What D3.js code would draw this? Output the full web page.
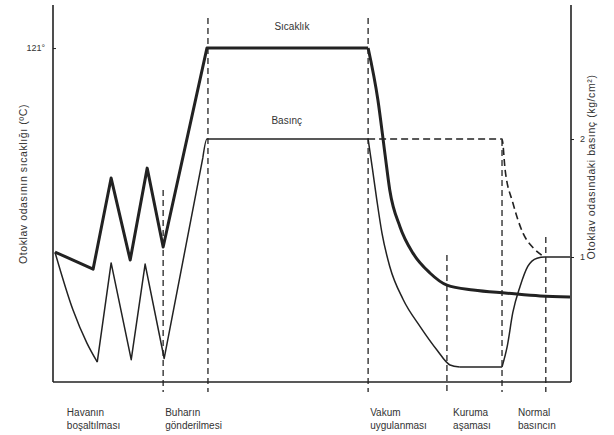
<!DOCTYPE html>
<html><head><meta charset="utf-8">
<script src="https://cdn.jsdelivr.net/npm/d3@7"></script>
<style>body{margin:0;background:#fff}svg{display:block}text{font-family:"Liberation Sans",Arial,sans-serif;fill:#333}</style>
</head><body><svg id="c" width="614" height="435"></svg>
<script>
// ---- data ----
// time in arbitrary units (0..100), temperature in °C, pressure in kg/cm²
const tempZigTime = [0, 7.4, 10.9, 14.6, 17.9, 21.0, 29.5, 60.8];
const tempZigVal  = [47.1, 40.9, 73.9, 44.2, 77.5, 48.9, 121, 121];
const tempDecayTime = [60.8, 62.7, 64.1, 65.0, 67.0, 69.5, 72.8, 76.1, 81.2, 87.8, 94.2, 100];
const tempDecayVal  = [121, 102.2, 82.2, 69.6, 56.2, 46.7, 39.5, 35.1, 33.3, 32.2, 31.2, 30.8];

const presStartTime = [0, 3.5, 6.2, 8.2];
const presStartVal  = [1.04, 0.55, 0.27, 0.11];
const presZigTime = [8.2, 10.9, 14.8, 17.5, 21.2, 28.7];
const presZigVal  = [0.11, 0.95, 0.13, 0.94, 0.14, 1.84];
const presTopTime = [28.7, 29.5, 60.8];
const presTopVal  = [1.84, 2.0, 2.0];
const presDecayTime = [60.8, 61.6, 62.5, 63.5, 65.0, 67.6, 70.9, 74.2, 76.7, 78.6];
const presDecayVal  = [2.0, 1.76, 1.48, 1.20, 0.92, 0.64, 0.41, 0.21, 0.085, 0.068];
const presDryTime = [78.6, 86.8];
const presDryVal  = [0.068, 0.068];
const presRiseTime = [86.8, 87.8, 88.9, 90.3, 91.8, 93.6, 95.1, 100];
const presRiseVal  = [0.068, 0.24, 0.53, 0.75, 0.92, 0.99, 1.0, 1.0];
const presDashTime = [60.8, 86.8, 87.4, 88.9, 90.9, 92.8, 95.1];
const presDashVal  = [2.0, 2.0, 1.74, 1.46, 1.20, 1.08, 1.0];

const phaseTime = [21.0, 29.7, 60.8, 76.1, 86.8, 95.3];
const phaseTopTemp = [69.6, 131.9, 131.9, 46.0, 87.7, 52.5];
const phaseLabels = [["Havanın","boşaltılması"],["Buharın","gönderilmesi"],["Vakum","uygulanması"],["Kuruma","aşaması"],["Normal","basıncın"]];
const phaseLabelTime = [2.3, 21.4, 61.2, 77.3, 89.9];
const tempTicks = [121];
const presTicks = [1, 2];
const leftTitle = "Otoklav odasının sıcaklığı (ºC)";
const rightTitle = "Otoklav odasındaki basınç (kg/cm²)";

// ---- scales ----
const svg = d3.select("#c");
const x = d3.scaleLinear().domain([0, 100]).range([55, 570]);
const yT = d3.scaleLinear().domain([0, 136.6]).range([382, 5]);
const yP = d3.scaleLinear().domain([0, 3.136]).range([375, 5]);
const ink = "#222";

function pts(t, v){ return t.map((d,i)=>[d, v[i]]); }
function draw(t, v, ys, curve, w, dash){
  const line = d3.line().x(d=>x(d[0])).y(d=>ys(d[1])).curve(curve);
  svg.append("path").attr("d", line(pts(t,v))).attr("fill","none")
    .attr("stroke", ink).attr("stroke-width", w).attr("stroke-linejoin","round")
    .attr("stroke-dasharray", dash || null);
}

// phase dashed verticals
phaseTime.forEach((t,i)=>{
  svg.append("line").attr("x1",x(t)).attr("x2",x(t))
    .attr("y1",yT(phaseTopTemp[i])).attr("y2",yT(0)+10)
    .attr("stroke","#333").attr("stroke-width",1.4).attr("stroke-dasharray","6,4");
});

// axes frame
svg.append("line").attr("x1",x(0)-2).attr("x2",x(100)+1).attr("y1",yT(0)).attr("y2",yT(0)).attr("stroke",ink).attr("stroke-width",1.6);
const ax = svg.append("g").attr("transform",`translate(${x(0)-2},0)`)
  .call(d3.axisLeft(yT).tickValues(tempTicks).tickSize(-3).tickPadding(8).tickFormat(d=>d+"°"));
const axR = svg.append("g").attr("transform",`translate(${x(100)+1},0)`)
  .call(d3.axisRight(yP).tickValues(presTicks).tickSize(3).tickPadding(6).tickFormat(d3.format("d")));
[ax, axR].forEach(g=>{
  g.select(".domain").attr("stroke",ink).attr("stroke-width",1.6).attr("d", g===ax ? "M0,5V382" : "M0,5V382");
  g.selectAll(".tick line").attr("stroke",ink);
  g.selectAll(".tick text").attr("font-size",9).attr("fill","#444").attr("font-family","Liberation Sans, Arial, sans-serif");
});

// curves
draw(tempZigTime, tempZigVal, yT, d3.curveLinear, 3);
draw(tempDecayTime, tempDecayVal, yT, d3.curveMonotoneX, 3);
draw(presStartTime, presStartVal, yP, d3.curveMonotoneX, 1.5);
draw(presZigTime, presZigVal, yP, d3.curveLinear, 1.5);
draw(presTopTime, presTopVal, yP, d3.curveMonotoneX, 1.5);
draw(presDecayTime, presDecayVal, yP, d3.curveMonotoneX, 1.5);
draw(presDryTime, presDryVal, yP, d3.curveLinear, 1.5);
draw(presRiseTime, presRiseVal, yP, d3.curveMonotoneX, 1.5);
draw(presDashTime, presDashVal, yP, d3.curveMonotoneX, 1.6, "7,4");

// curve labels
svg.append("text").attr("x", x(46)).attr("y", yT(121)-18).attr("text-anchor","middle").attr("font-size",10).text("Sıcaklık");
svg.append("text").attr("x", x(45)).attr("y", yP(2)-15).attr("text-anchor","middle").attr("font-size",10).text("Basınç");

// phase labels
phaseLabels.forEach((lines,i)=>{
  lines.forEach((s,j)=>{
    svg.append("text").attr("x", x(phaseLabelTime[i])).attr("y", 416 + j*13).attr("font-size",10).text(s);
  });
});

// axis titles
svg.append("text").attr("transform","translate(27,184) rotate(-90)").attr("text-anchor","middle").attr("font-size",10.5).attr("letter-spacing",0.6).text(leftTitle);
svg.append("text").attr("transform","translate(595,167) rotate(-90)").attr("text-anchor","middle").attr("font-size",10.5).attr("letter-spacing",0.6).text(rightTitle);
</script></body></html>
